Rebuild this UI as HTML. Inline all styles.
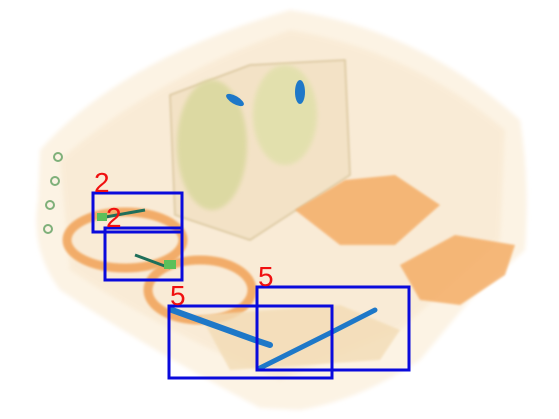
<!DOCTYPE html>
<html><head><meta charset="utf-8"><style>
html,body{margin:0;padding:0;background:#fff;width:559px;height:419px;overflow:hidden}
svg{display:block}
</style></head><body>
<svg id="scene" width="559" height="419" viewBox="0 0 559 419" xmlns="http://www.w3.org/2000/svg">
<defs>
<filter id="blur2"><feGaussianBlur stdDeviation="2"/></filter>
<filter id="blur1"><feGaussianBlur stdDeviation="1"/></filter>
</defs>
<g>
<path d="M40,150 Q120,60 290,10 Q420,30 520,120 Q530,180 525,250 L470,300 L420,360 Q360,400 300,410 L260,408 Q150,350 60,290 Q30,250 38,200 Z" fill="#fcf3e4" filter="url(#blur2)"/>
<path d="M60,160 Q150,80 290,30 Q410,50 505,130 L500,240 L400,330 L280,380 Q160,330 70,270 Z" fill="#f8e6cc" opacity="0.55" filter="url(#blur2)"/>
<path d="M170,95 L250,65 L345,60 L350,175 L250,240 L175,215 Z" fill="#f3e2c6" stroke="#d8c49a" stroke-width="1.5" filter="url(#blur1)"/>
<ellipse cx="212" cy="145" rx="35" ry="65" fill="#d7d79a" opacity="0.8" filter="url(#blur2)"/>
<ellipse cx="285" cy="115" rx="32" ry="50" fill="#dfe0a8" opacity="0.8" filter="url(#blur2)"/>
<ellipse cx="235" cy="100" rx="10" ry="4" fill="#1e78c8" transform="rotate(30 235 100)"/>
<ellipse cx="300" cy="92" rx="5" ry="12" fill="#1e78c8"/>
<path d="M295,210 L345,180 L395,175 L440,205 L395,245 L340,245 Z" fill="#f4ad66" opacity="0.85" filter="url(#blur1)"/>
<path d="M400,265 L455,235 L515,245 L505,275 L460,305 L420,300 Z" fill="#f4ad66" opacity="0.85" filter="url(#blur1)"/>
<ellipse cx="125" cy="240" rx="58" ry="28" fill="none" stroke="#f1a257" stroke-width="9" opacity="0.85" filter="url(#blur1)"/>
<ellipse cx="200" cy="290" rx="52" ry="30" fill="none" stroke="#f1a257" stroke-width="9" opacity="0.85" filter="url(#blur1)"/>
<path d="M200,315 L340,305 L400,330 L380,360 L230,370 Z" fill="#f3dcb5" opacity="0.8" filter="url(#blur1)"/>
<g fill="none" stroke="#7fb07a" stroke-width="2">
<circle cx="58" cy="157" r="4"/><circle cx="55" cy="181" r="4"/><circle cx="50" cy="205" r="4"/><circle cx="48" cy="229" r="4"/>
</g>
<path d="M100,218 L145,210" stroke="#1f6f5a" stroke-width="3"/>
<rect x="97" y="213" width="10" height="8" fill="#5cc05a"/>
<path d="M135,255 L170,268" stroke="#1f6f5a" stroke-width="3"/>
<rect x="164" y="260" width="12" height="9" fill="#5cc05a"/>
<path d="M172,310 L255,340 L270,345" stroke="#1e78c8" stroke-width="6" stroke-linecap="round"/>
<path d="M260,368 L330,333 L375,310" stroke="#1e78c8" stroke-width="5" stroke-linecap="round"/>
</g>
<g id="boxes"></g>
</svg>
<script>
const boxX0=[93,105,169,257];
const boxY0=[193,228,306,287];
const boxX1=[182,182,332,409];
const boxY1=[232,280,378,370];
const boxLabels=["2","2","5","5"];
const g=document.getElementById('boxes');
const NS='http://www.w3.org/2000/svg';
for(let i=0;i<boxLabels.length;i++){
  const r=document.createElementNS(NS,'rect');
  r.setAttribute('x',boxX0[i]);r.setAttribute('y',boxY0[i]);
  r.setAttribute('width',boxX1[i]-boxX0[i]);r.setAttribute('height',boxY1[i]-boxY0[i]);
  r.setAttribute('fill','none');r.setAttribute('stroke','#0a0adc');r.setAttribute('stroke-width','3');
  
  
  g.appendChild(r);
  const t=document.createElementNS(NS,'text');
  t.setAttribute('x',boxX0[i]+1);t.setAttribute('y',boxY0[i]-1);
  t.setAttribute('fill','#f01010');t.setAttribute('font-size','28');
  t.setAttribute('font-family','Liberation Sans, sans-serif');
  t.textContent=boxLabels[i];
  
  
  g.appendChild(t);
}
</script>
</body></html>
